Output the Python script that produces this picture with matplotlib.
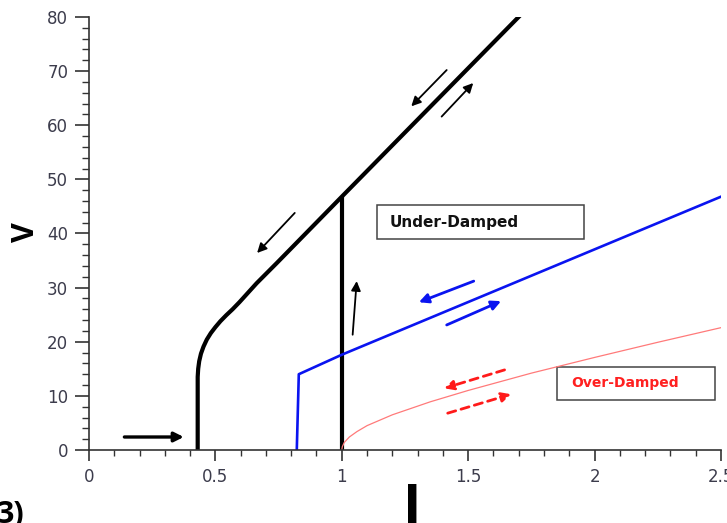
import matplotlib
matplotlib.use('Agg')
import matplotlib.pyplot as plt
from matplotlib.patches import Rectangle

# black branch (under-damped, hysteretic)
I_black = [0.43, 0.43, 0.432, 0.436, 0.443, 0.453, 0.466, 0.482, 0.5, 0.52,
           0.543, 0.568, 0.595, 0.663, 0.742, 1.0, 1.75]
V_black = [0.0, 13.5, 15.0, 16.4, 17.8, 19.1, 20.4, 21.6, 22.7, 23.8,
           24.9, 26.0, 27.3, 30.8, 34.5, 46.8, 82.4]
I_jump = [1.0, 1.0]
V_jump = [0.0, 46.8]

# blue branch
I_blue = [0.822, 0.83, 1.0, 2.5]
V_blue = [0.0, 14.0, 17.6, 46.8]

# red branch (over-damped)
I_red = [1.0, 1.002, 1.01, 1.03, 1.06, 1.1, 1.2, 1.35, 1.5, 1.75, 2.0, 2.25, 2.5]
V_red = [0.0, 0.6, 1.4, 2.4, 3.4, 4.5, 6.5, 8.9, 11.0, 14.2, 17.1, 19.9, 22.6]

# direction arrows: (start, end)
black_arrows = [((0.14, 2.4), (0.375, 2.4)),
                ((1.043, 21.3), (1.059, 31.2)),
                ((0.814, 43.8), (0.665, 36.4)),
                ((1.415, 70.2), (1.275, 63.5)),
                ((1.395, 61.6), (1.52, 67.8))]
blue_arrows = [((1.522, 31.2), (1.305, 27.3)),
               ((1.415, 23.1), (1.63, 27.5))]
red_arrows = [((1.644, 14.8), (1.405, 11.4)),
              ((1.419, 6.8), (1.67, 10.3))]

xticks = [0, 0.5, 1, 1.5, 2, 2.5]
xticklabels = ['0', '0.5', '1', '1.5', '2', '2.5']
yticks = [0, 10, 20, 30, 40, 50, 60, 70, 80]

fig = plt.figure(figsize=(7.27, 5.23), dpi=100)
ax = fig.add_axes([0.1224, 0.1396, 0.8693, 0.8279])

ax.plot(I_black, V_black, color='black', lw=3.0, solid_capstyle='butt',
        solid_joinstyle='round')
ax.plot(I_jump, V_jump, color='black', lw=3.0, solid_capstyle='butt')
ax.plot(I_blue, V_blue, color='#0a14f0', lw=1.9)
ax.plot(I_red, V_red, color='#ff7a7a', lw=0.9)

for (s, e) in black_arrows:
    w = 2.4 if s[1] < 5 else 1.3
    ax.annotate('', xy=e, xytext=s,
                arrowprops=dict(arrowstyle='-|>', color='black', lw=w,
                                mutation_scale=14, shrinkA=0, shrinkB=0))
for (s, e) in blue_arrows:
    ax.annotate('', xy=e, xytext=s,
                arrowprops=dict(arrowstyle='-|>', color='#0a14f0', lw=2.0,
                                mutation_scale=14, shrinkA=0, shrinkB=0))
for (s, e) in red_arrows:
    ax.annotate('', xy=e, xytext=s,
                arrowprops=dict(arrowstyle='-|>', color='#ff1a1a', lw=2.0,
                                linestyle=(0, (3, 2)),
                                mutation_scale=14, shrinkA=0, shrinkB=0))

# label boxes
ax.add_patch(Rectangle((1.138, 39.0), 0.819, 6.3, fill=False,
                       edgecolor='#444444', lw=1.1, clip_on=False))
ax.text(1.19, 42.1, 'Under-Damped', fontsize=11, fontweight='bold',
        color='#111111', va='center', ha='left')
ax.add_patch(Rectangle((1.85, 9.24), 0.628, 6.1, fill=False,
                       edgecolor='#444444', lw=1.1, clip_on=False))
ax.text(1.909, 12.4, 'Over-Damped', fontsize=10, fontweight='bold',
        color='#ff2020', va='center', ha='left')

ax.set_xlim(0, 2.5)
ax.set_ylim(0, 80)
ax.set_xticks(xticks)
ax.set_xticklabels(xticklabels)
ax.set_yticks(yticks)
ax.set_xticks([i / 10 for i in range(26)], minor=True)
ax.set_yticks(list(range(0, 81, 2)), minor=True)

for side in ['top', 'right']:
    ax.spines[side].set_visible(False)
for side in ['left', 'bottom']:
    ax.spines[side].set_color('#333333')
    ax.spines[side].set_linewidth(1.2)

ax.tick_params(axis='both', which='both', direction='out', colors='#333333',
               labelcolor='#3c3c4c', labelsize=12)
ax.tick_params(axis='y', which='major', length=10, width=1.2, pad=5)
ax.tick_params(axis='y', which='minor', length=5, width=1.0)
ax.tick_params(axis='x', which='major', length=8, width=1.2, pad=5)
ax.tick_params(axis='x', which='minor', length=4, width=1.0)

# axis labels and panel tag, partly cut by the figure edge as in the original
fig.text(26 / 727, 1 - 232 / 523, 'V', rotation=90, fontsize=22,
         fontweight='bold', family='Open Sans', ha='center', va='center')
fig.text(412 / 727, 1 - 482 / 523, 'I', fontsize=40, fontweight='bold',
         family='Open Sans', ha='center', va='top')
fig.text(-0.004, 1 - 500 / 523, '3)', fontsize=22, fontweight='bold',
         family='Open Sans', ha='left', va='top')

fig.savefig('out.png', dpi=100)
